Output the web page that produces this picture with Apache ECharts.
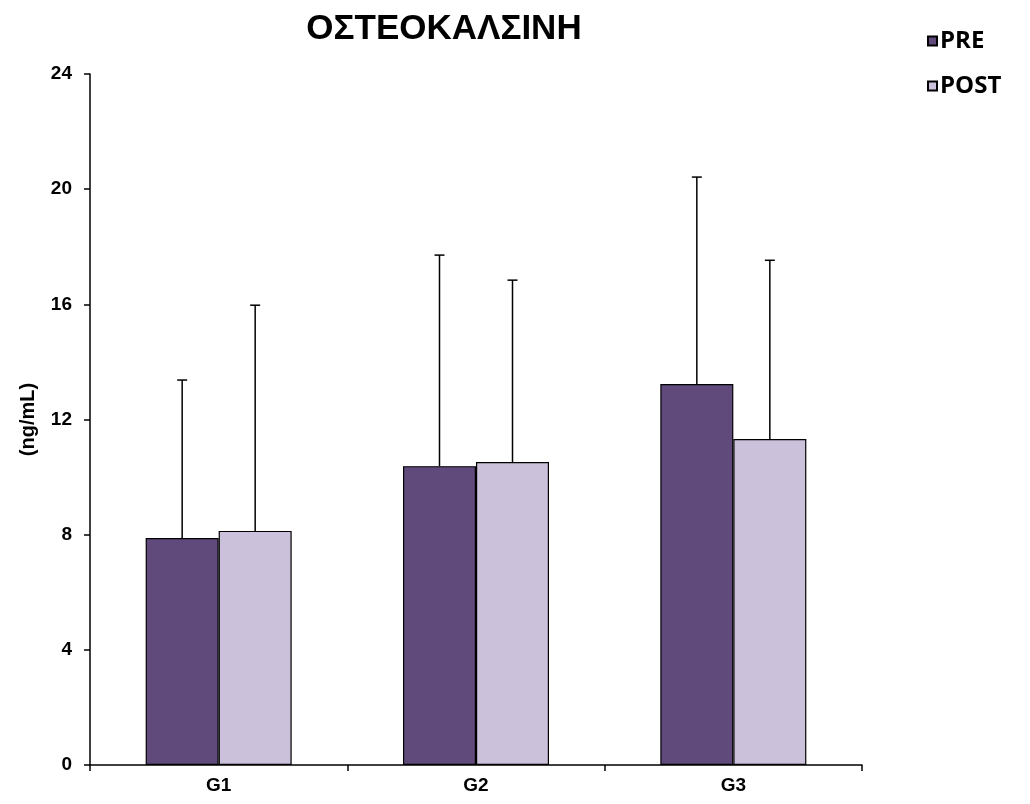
<!DOCTYPE html>
<html><head><meta charset="utf-8">
<script src="https://cdn.jsdelivr.net/npm/echarts@6/dist/echarts.min.js"></script>
<style>html,body{margin:0;padding:0;background:#fff}#c{width:1030px;height:804px}</style>
</head><body><div id="c"></div>
<script>
const categories = ['G1', 'G2', 'G3'];
const preMean = [7.88, 10.38, 13.23];
const postMean = [8.13, 10.52, 11.32];
const preUpper = [13.37, 17.71, 20.42];
const postUpper = [15.97, 16.84, 17.53];
const yTicks = [0, 4, 8, 12, 16, 20, 24];

const chart = echarts.init(document.getElementById('c'));
const BW = 73;
function errItem(offset) {
  return function (params, api) {
    const idx = api.value(0);
    const top = api.coord([idx, api.value(2)]);
    const base = api.coord([idx, api.value(1)]);
    const x = top[0] + offset;
    const s = {stroke: '#000', lineWidth: 1.5};
    return {type: 'group', children: [
      {type: 'line', shape: {x1: x, y1: base[1], x2: x, y2: top[1]}, style: s},
      {type: 'line', shape: {x1: x - 5, y1: top[1], x2: x + 5, y2: top[1]}, style: s}
    ]};
  };
}
chart.setOption({
  animation: false,
  title: {text: 'ΟΣΤΕΟΚΑΛΣΙΝΗ', left: 439, top: 7, textAlign: 'center',
    textStyle: {fontFamily: 'Liberation Sans, Arial', fontWeight: 'bold', fontSize: 35, color: '#000'}},
  legend: {orient: 'vertical', left: 922, top: 24, itemWidth: 9, itemHeight: 9, itemGap: 21,
    icon: 'rect', data: ['PRE', 'POST'],
    textStyle: {fontFamily: 'Open Sans', fontWeight: 'bold', fontSize: 24, color: '#000', padding: [0, 0, 0, -2]}},
  grid: {left: 90, right: 168, top: 74, bottom: 39, containLabel: false},
  xAxis: {type: 'category', data: categories,
    axisLine: {lineStyle: {color: '#000', width: 1.5}},
    axisTick: {show: true, alignWithLabel: false, length: 6, lineStyle: {color: '#000', width: 1.5}},
    axisLabel: {fontFamily: 'Liberation Sans, Arial', fontWeight: 'bold', fontSize: 19, color: '#000', margin: 11}},
  yAxis: {type: 'value', min: 0, max: 24, interval: 4,
    name: '(ng/mL)', nameLocation: 'middle', nameGap: 52, nameRotate: 90,
    nameTextStyle: {fontFamily: 'Liberation Sans, Arial', fontWeight: 'bold', fontSize: 20, color: '#000'},
    axisLine: {show: true, lineStyle: {color: '#000', width: 1.5}},
    axisTick: {show: true, length: 6, lineStyle: {color: '#000', width: 1.5}},
    splitLine: {show: false},
    axisLabel: {fontFamily: 'Liberation Sans, Arial', fontWeight: 'bold', fontSize: 19, color: '#000', margin: 18,
      formatter: v => yTicks.includes(v) ? String(v) : ''}},
  series: [
    {name: 'PRE', type: 'bar', data: preMean, barWidth: BW, barGap: '0%',
      itemStyle: {color: '#604A7B', borderColor: '#000', borderWidth: 1.2}},
    {name: 'POST', type: 'bar', data: postMean, barWidth: BW, barGap: '0%',
      itemStyle: {color: '#CCC1DA', borderColor: '#000', borderWidth: 1.2}},
    {type: 'custom', renderItem: errItem(-BW / 2), z: 1,
      data: categories.map((c, i) => [i, preMean[i], preUpper[i]])},
    {type: 'custom', renderItem: errItem(BW / 2), z: 1,
      data: categories.map((c, i) => [i, postMean[i], postUpper[i]])}
  ]
});
</script></body></html>
